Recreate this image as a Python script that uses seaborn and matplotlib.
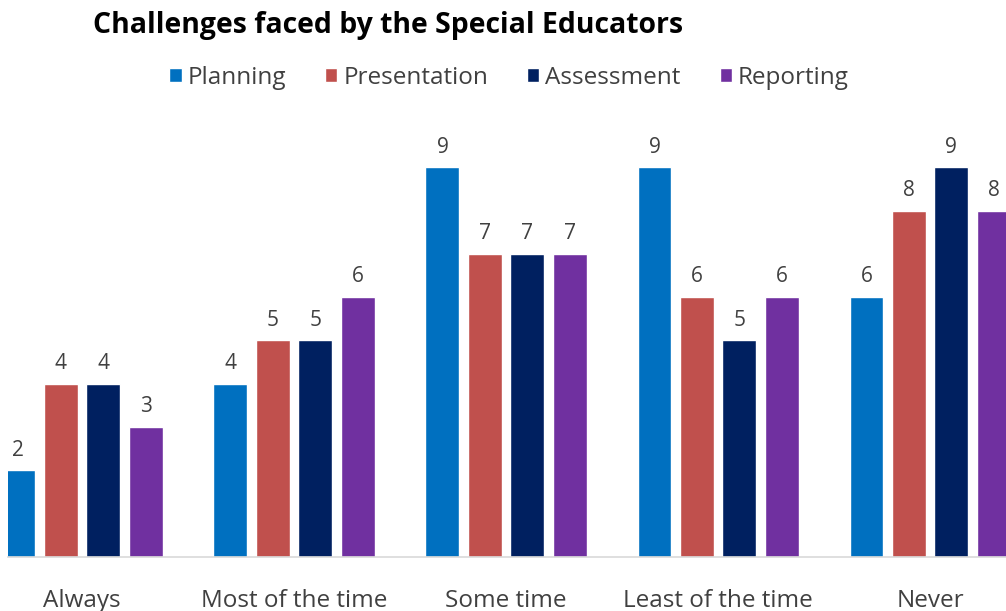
import pandas as pd
import seaborn as sns
import matplotlib.pyplot as plt

# Chart data
categories = ['Always', 'Most of the time', 'Some time', 'Least of the time', 'Never']
series = ['Planning', 'Presentation', 'Assessment', 'Reporting']
planning = [2, 4, 9, 9, 6]
presentation = [4, 5, 7, 6, 8]
assessment = [4, 5, 7, 5, 9]
reporting = [3, 6, 7, 6, 8]
colors = ['#0070C0', '#C0504D', '#002060', '#7030A0']

values = {'Planning': planning, 'Presentation': presentation,
          'Assessment': assessment, 'Reporting': reporting}
rows = []
for s in series:
    for c, v in zip(categories, values[s]):
        rows.append({'category': c, 'series': s, 'value': v})
df = pd.DataFrame(rows)

sns.set_style('white')
plt.rcParams['font.family'] = ['Open Sans', 'DejaVu Sans']

fig = plt.figure(figsize=(10.06, 6.11), dpi=100)
ax = fig.add_axes([8 / 1006, 54 / 611, 998 / 1006, 427 / 611])

sns.barplot(data=df, x='category', y='value', hue='series', order=categories,
            hue_order=series, palette=colors, width=0.8, gap=0.2,
            saturation=1, ax=ax, legend=True)

for cont in ax.containers:
    ax.bar_label(cont, padding=7, fontsize=15, color='#404040')

ax.set_xlim(-0.349, 4.358)
ax.set_ylim(0, 9.86)
ax.set_xlabel('')
ax.set_ylabel('')
ax.set_yticks([])
ax.tick_params(axis='x', length=0, pad=23, labelsize=17.5, labelcolor='#404040')
for side in ['top', 'left', 'right']:
    ax.spines[side].set_visible(False)
ax.spines['bottom'].set_color('#D9D9D9')
ax.spines['bottom'].set_linewidth(1.2)

handles, labels = ax.get_legend_handles_labels()
ax.legend(handles, labels, loc='center', bbox_to_anchor=(509 / 1006, 1 - 78 / 611),
          bbox_transform=fig.transFigure, ncol=4, frameon=False, fontsize=17.5,
          handlelength=0.5, handleheight=0.5, handletextpad=0.25, columnspacing=1.6,
          labelcolor='#404040')

fig.text(93 / 1006, 1 - 25 / 611, 'Challenges faced by the Special Educators',
         fontsize=20.4, fontweight='bold', color='black', va='center', ha='left')

fig.savefig('out.png', dpi=100)
